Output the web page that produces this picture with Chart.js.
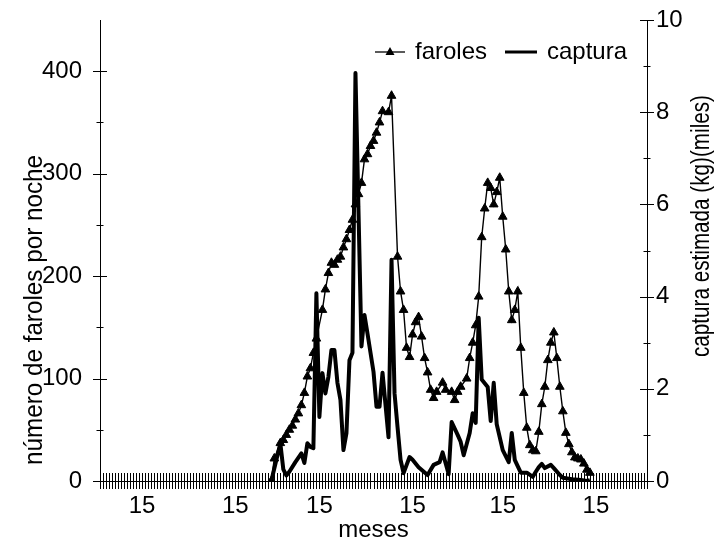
<!DOCTYPE html>
<html>
<head>
<meta charset="utf-8">
<script src="https://cdn.jsdelivr.net/npm/chart.js@4/dist/chart.umd.min.js"></script>
<style>
  body { margin: 0; background: #fff; }
</style>
</head>
<body>
<canvas id="myChart" width="728" height="545"></canvas>
<script>
"use strict";

// Dias contados desde el 1 de enero
const farolesDias = [57, 58, 60, 61, 62, 63, 64, 65, 66, 67, 68, 69, 70, 71, 72, 74, 75, 76, 77, 78,
  79, 80, 81, 82, 83, 84, 85, 86, 87, 88, 89, 90, 91, 92, 93, 94, 96, 97, 99, 100,
  101, 102, 103, 104, 105, 106, 107, 108, 109, 110, 111, 112, 114, 115, 117, 118, 119, 120, 122, 123,
  124, 125, 126, 127, 128, 129, 130, 131, 132, 133, 134, 135, 136, 137, 138, 139, 140, 141, 142, 143,
  144, 145, 146, 147, 148, 149, 150, 151, 152, 153, 154, 155, 156, 157, 158, 159, 160, 161, 162, 163];
const farolesValores = [0, 22, 37, 40, 45, 50, 54, 60, 66, 74, 86, 102, 110, 125, 139, 167, 187, 203, 213, 211,
  216, 219, 228, 236, 245, 255, 270, 280, 291, 314, 319, 327, 332, 340, 350, 361, 360, 376, 219, 185,
  167, 130, 121, 143, 155, 160, 141, 120, 106, 89, 81, 87, 96, 89, 87, 79, 87, 92, 100, 120,
  135, 152, 180, 238, 266, 291, 286, 270, 282, 296, 258, 226, 185, 157, 167, 185, 130, 86, 52, 35,
  30, 29, 48, 75, 92, 118, 135, 145, 120, 92, 68, 47, 36, 28, 23, 22, 21, 17, 11, 8];

const capturaDias = [57, 60, 61, 62, 63, 65, 67, 68, 69, 70, 71, 72, 73, 74, 75, 76, 77, 78, 79, 80,
  81, 82, 83, 84, 85, 87, 88, 89, 91, 92, 93, 94, 96, 97, 98, 99, 100, 101, 103, 104,
  106, 109, 111, 113, 114, 116, 117, 119, 120, 121, 123, 124, 125, 126, 127, 129, 130, 131, 132, 134,
  136, 137, 138, 140, 142, 144, 145, 146, 147, 148, 150, 151, 153, 154, 157, 160, 162, 163];
const capturaValores = [0, 0.82, 0.25, 0.12, 0.2, 0.41, 0.6, 0.39, 0.82, 0.74, 0.71, 4.07, 1.39, 2.34, 1.9, 2.26, 2.84, 2.84, 2.13, 1.76,
  0.67, 1.04, 2.62, 2.78, 8.85, 2.92, 3.6, 3.2, 2.37, 1.61, 1.61, 2.35, 0.95, 4.8, 1.9, 1.17, 0.46, 0.17, 0.52, 0.46,
  0.3, 0.13, 0.35, 0.41, 0.62, 0.15, 1.28, 1.0, 0.85, 0.56, 1.04, 1.47, 1.26, 3.54, 2.2, 2.04, 1.3, 2.13, 1.23, 0.67,
  0.41, 1.04, 0.46, 0.18, 0.18, 0.09, 0.2, 0.3, 0.37, 0.28, 0.35, 0.28, 0.13, 0.07, 0.04, 0.02, 0, 0.02];

// Dia 15 de cada mes (ene - jun)
const diasEtiqueta = [14, 45, 73, 104, 134, 165];
const etiquetaMes = "15";

const FONT = "'Liberation Sans', Arial, sans-serif";

Chart.defaults.font.family = FONT;
Chart.defaults.font.size = 24;
Chart.defaults.color = "#000";

const toPoints = (xs, ys) => xs.map((d, i) => ({ x: d, y: ys[i] }));

// Rotated, slightly condensed axis title
const drawTitle = function (ctx, text, cx, cy, length) {
  ctx.save();
  ctx.fillStyle = "#000";
  ctx.font = "25px " + FONT;
  ctx.textAlign = "center";
  ctx.textBaseline = "middle";
  ctx.translate(cx, cy);
  ctx.rotate(-Math.PI / 2);
  ctx.scale(length / ctx.measureText(text).width, 1);
  ctx.fillText(text, 0, 0);
  ctx.restore();
};

// fixed axis sizes, no extra label padding
const fixWidth = (w) => (scale) => {
  scale.width = w;
  scale.paddingTop = 0;
  scale.paddingBottom = 0;
};

// Cross tick marks, axis titles and legend
const axisExtras = {
  id: "axisExtras",
  afterDraw(chart) {
    const ctx = chart.ctx;
    const { x, y, y2 } = chart.scales;
    ctx.save();
    ctx.strokeStyle = "#000";
    ctx.lineWidth = 1;
    ctx.beginPath();
    x.ticks.forEach((t) => {
      const px = Math.round(x.getPixelForValue(t.value)) + 0.5;
      ctx.moveTo(px, x.top - 8);
      ctx.lineTo(px, x.top + 8);
    });
    y.ticks.forEach((t) => {
      if (t.value > 400) return;
      const py = Math.round(y.getPixelForValue(t.value)) + 0.5;
      const len = t.value % 100 === 0 ? 7 : 3.5;
      ctx.moveTo(y.right - len, py);
      ctx.lineTo(y.right + len, py);
    });
    y2.ticks.forEach((t) => {
      const py = Math.round(y2.getPixelForValue(t.value)) + 0.5;
      const len = t.value % 2 === 0 ? 7 : 3.5;
      ctx.moveTo(y2.left - len, py);
      ctx.lineTo(y2.left + len, py);
    });
    ctx.stroke();
    ctx.restore();

    drawTitle(ctx, "número de faroles por noche", 35, 310, 310);
    drawTitle(ctx, "captura estimada (kg)(miles)", 702, 226, 262);

    // legend
    const ly = 52;
    ctx.save();
    ctx.strokeStyle = "#000";
    ctx.fillStyle = "#000";
    ctx.lineWidth = 1.3;
    ctx.beginPath();
    ctx.moveTo(375, ly);
    ctx.lineTo(405, ly);
    ctx.stroke();
    ctx.beginPath();
    ctx.moveTo(390, ly - 5);
    ctx.lineTo(394.5, ly + 3);
    ctx.lineTo(385.5, ly + 3);
    ctx.closePath();
    ctx.fill();
    ctx.lineWidth = 3;
    ctx.beginPath();
    ctx.moveTo(505, ly);
    ctx.lineTo(537, ly);
    ctx.stroke();
    ctx.font = "24px " + FONT;
    ctx.textAlign = "left";
    ctx.textBaseline = "middle";
    ctx.fillText(chart.data.datasets[0].label, 415, ly);
    ctx.fillText(chart.data.datasets[1].label, 547, ly);
    ctx.restore();
  },
};

const ctx = document.getElementById("myChart").getContext("2d");

const myChart = new Chart(ctx, {
  type: "line",
  data: {
    datasets: [
      {
        label: "faroles",
        data: toPoints(farolesDias, farolesValores),
        yAxisID: "y",
        borderColor: "#000",
        borderWidth: 1.4,
        pointStyle: "triangle",
        pointRadius: 5,
        pointBackgroundColor: "#000",
        pointBorderColor: "#000",
        pointBorderWidth: 1,
      },
      {
        label: "captura",
        data: toPoints(capturaDias, capturaValores),
        yAxisID: "y2",
        borderColor: "#000",
        borderWidth: 4,
        borderJoinStyle: "round",
        pointRadius: 0,
      },
    ],
  },
  options: {
    responsive: false,
    devicePixelRatio: 1,
    animation: false,
    layout: {
      padding: { top: 20, left: 0, right: 0, bottom: 0 },
    },
    scales: {
      x: {
        type: "linear",
        min: 0,
        max: 182,
        afterFit: (scale) => {
          scale.height = 64;
          scale.paddingLeft = 0;
          scale.paddingRight = 0;
        },
        grid: { display: false, drawTicks: false },
        border: { display: true, color: "#000", width: 1 },
        ticks: {
          stepSize: 1,
          autoSkip: false,
          maxRotation: 0,
          padding: 11,
          callback: (value) => (diasEtiqueta.includes(value) ? etiquetaMes : ""),
        },
        title: {
          display: true,
          text: "meses",
          padding: { top: 0, bottom: 0 },
        },
      },
      y: {
        position: "left",
        min: 0,
        max: 450,
        afterFit: fixWidth(100),
        grid: { display: false, drawTicks: false },
        border: { display: true, color: "#000", width: 1 },
        ticks: {
          stepSize: 50,
          padding: 18,
          callback: (value) => (value % 100 === 0 && value <= 400 ? value : ""),
        },
      },
      y2: {
        position: "right",
        min: 0,
        max: 10,
        afterFit: fixWidth(81),
        grid: { display: false, drawTicks: false },
        border: { display: true, color: "#000", width: 1 },
        ticks: {
          stepSize: 1,
          padding: 9,
          callback: (value) => (value % 2 === 0 ? value : ""),
        },
      },
    },
    plugins: {
      legend: { display: false },
      tooltip: { enabled: false },
    },
  },
  plugins: [axisExtras],
});
</script>
</body>
</html>
